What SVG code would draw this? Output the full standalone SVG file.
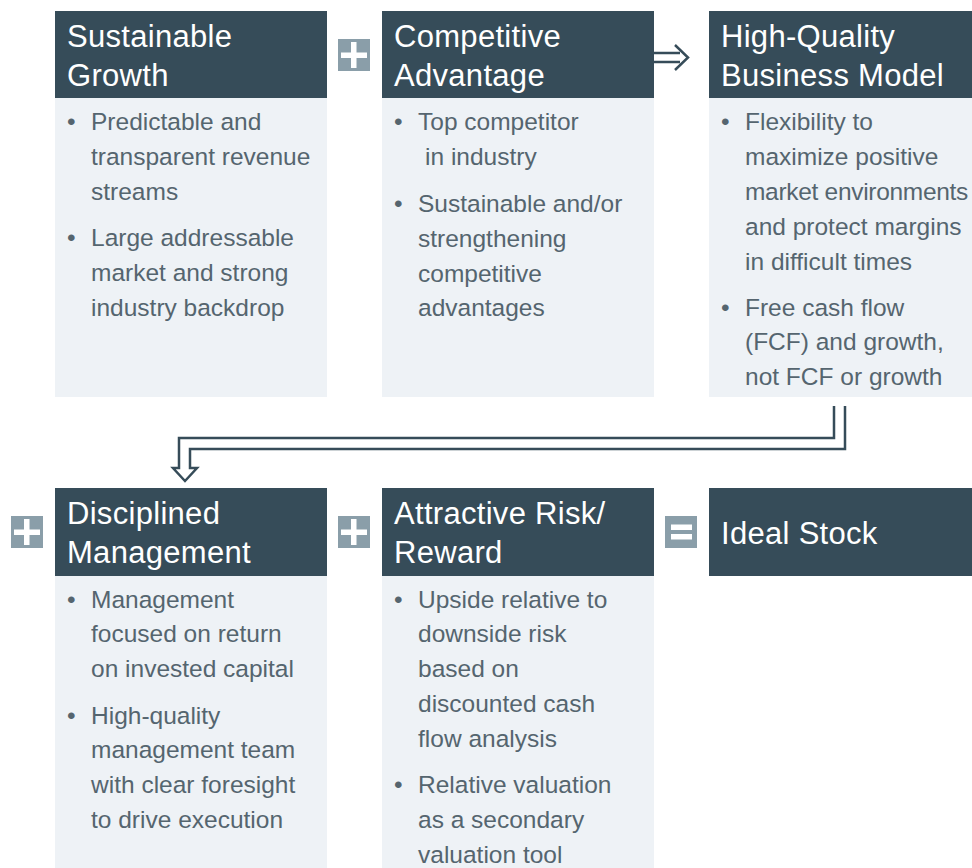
<svg xmlns="http://www.w3.org/2000/svg" width="972" height="868" viewBox="0 0 972 868">
  <style>
    .hd { fill: #364c59; }
    .bd { fill: #eef2f6; }
    .ht { font-family: "Liberation Sans", Arial, sans-serif; font-size: 31px; letter-spacing: 0.3px; fill: #ffffff; }
    .bt { font-family: "Liberation Sans", Arial, sans-serif; font-size: 24.5px; fill: #55656f; }
    .ic { fill: #8a9ea9; }
    .icw { fill: #ffffff; }
    .conn { fill: none; stroke: #364c59; stroke-width: 2.5; stroke-linejoin: miter; }
  </style>
  <rect width="972" height="868" fill="#ffffff"/>

  <!-- top row -->
  <g id="sustainable-growth">
    <rect class="bd" x="55" y="98" width="272" height="299"/>
    <rect class="hd" x="55" y="11" width="272" height="87"/>
    <text class="ht" x="67" y="47">Sustainable</text>
    <text class="ht" x="67" y="86">Growth</text>
    <text class="bt"><tspan x="67" y="130">•</tspan><tspan x="91" y="130">Predictable and</tspan><tspan x="91" y="165">transparent revenue</tspan><tspan x="91" y="200">streams</tspan></text>
    <text class="bt"><tspan x="67" y="246">•</tspan><tspan x="91" y="246">Large addressable</tspan><tspan x="91" y="281">market and strong</tspan><tspan x="91" y="316">industry backdrop</tspan></text>
  </g>

  <g id="competitive-advantage">
    <rect class="bd" x="382" y="98" width="272" height="299"/>
    <rect class="hd" x="382" y="11" width="272" height="87"/>
    <text class="ht" x="394" y="47">Competitive</text>
    <text class="ht" x="394" y="86">Advantage</text>
    <text class="bt"><tspan x="394" y="130">•</tspan><tspan x="418" y="130">Top competitor</tspan><tspan x="425" y="165">in industry</tspan></text>
    <text class="bt"><tspan x="394" y="212">•</tspan><tspan x="418" y="212">Sustainable and/or</tspan><tspan x="418" y="247">strengthening</tspan><tspan x="418" y="282">competitive</tspan><tspan x="418" y="316">advantages</tspan></text>
  </g>

  <g id="business-model">
    <rect class="bd" x="709" y="98" width="263" height="299"/>
    <rect class="hd" x="709" y="11" width="263" height="87"/>
    <text class="ht" x="721" y="47">High-Quality</text>
    <text class="ht" x="721" y="86">Business Model</text>
    <text class="bt"><tspan x="721" y="130">•</tspan><tspan x="745" y="130">Flexibility to</tspan><tspan x="745" y="165">maximize positive</tspan><tspan x="745" y="200" letter-spacing="-0.3">market environments</tspan><tspan x="745" y="235">and protect margins</tspan><tspan x="745" y="270">in difficult times</tspan></text>
    <text class="bt"><tspan x="721" y="316">•</tspan><tspan x="745" y="316">Free cash flow</tspan><tspan x="745" y="350">(FCF) and growth,</tspan><tspan x="745" y="385">not FCF or growth</tspan></text>
  </g>

  <!-- bottom row -->
  <g id="disciplined-management">
    <rect class="bd" x="55" y="576" width="272" height="292"/>
    <rect class="hd" x="55" y="488" width="272" height="88"/>
    <text class="ht" x="67" y="524">Disciplined</text>
    <text class="ht" x="67" y="563">Management</text>
    <text class="bt"><tspan x="67" y="608">•</tspan><tspan x="91" y="608">Management</tspan><tspan x="91" y="642">focused on return</tspan><tspan x="91" y="677">on invested capital</tspan></text>
    <text class="bt"><tspan x="67" y="724">•</tspan><tspan x="91" y="724">High-quality</tspan><tspan x="91" y="758">management team</tspan><tspan x="91" y="793">with clear foresight</tspan><tspan x="91" y="828">to drive execution</tspan></text>
  </g>

  <g id="risk-reward">
    <rect class="bd" x="382" y="576" width="272" height="292"/>
    <rect class="hd" x="382" y="488" width="272" height="88"/>
    <text class="ht" x="394" y="524">Attractive Risk/</text>
    <text class="ht" x="394" y="563">Reward</text>
    <text class="bt"><tspan x="394" y="608">•</tspan><tspan x="418" y="608">Upside relative to</tspan><tspan x="418" y="642">downside risk</tspan><tspan x="418" y="677">based on</tspan><tspan x="418" y="712">discounted cash</tspan><tspan x="418" y="747">flow analysis</tspan></text>
    <text class="bt"><tspan x="394" y="793">•</tspan><tspan x="418" y="793">Relative valuation</tspan><tspan x="418" y="828">as a secondary</tspan><tspan x="418" y="863">valuation tool</tspan></text>
  </g>

  <g id="ideal-stock">
    <rect class="hd" x="709" y="488" width="263" height="88"/>
    <text class="ht" x="721" y="544">Ideal Stock</text>
  </g>

  <!-- operator icons -->
  <g id="plus-1">
    <rect class="ic" x="338" y="39" width="32" height="32"/>
    <rect class="icw" x="341" y="52.5" width="26" height="5.5"/>
    <rect class="icw" x="351" y="42" width="5.5" height="26"/>
  </g>
  <g id="plus-2">
    <rect class="ic" x="11" y="516" width="32" height="32"/>
    <rect class="icw" x="14" y="529.5" width="26" height="5.5"/>
    <rect class="icw" x="24" y="519" width="5.5" height="26"/>
  </g>
  <g id="plus-3">
    <rect class="ic" x="338" y="516" width="32" height="32"/>
    <rect class="icw" x="341" y="529.5" width="26" height="5.5"/>
    <rect class="icw" x="351" y="519" width="5.5" height="26"/>
  </g>
  <g id="equals">
    <rect class="ic" x="665" y="516" width="32" height="32"/>
    <rect class="icw" x="671" y="524.5" width="21" height="5.5"/>
    <rect class="icw" x="671" y="534" width="21" height="5.5"/>
  </g>

  <!-- connectors -->
  <g id="connectors">
    <path class="conn" d="M654,53 H680 M654,62 H680 M675,45 L688,57.5 L675,70"/>
    <path class="conn" d="M834,406 V438 H179 V468 H173 L185,481 L197,468 H190 V449 H845 V406"/>
  </g>
</svg>
